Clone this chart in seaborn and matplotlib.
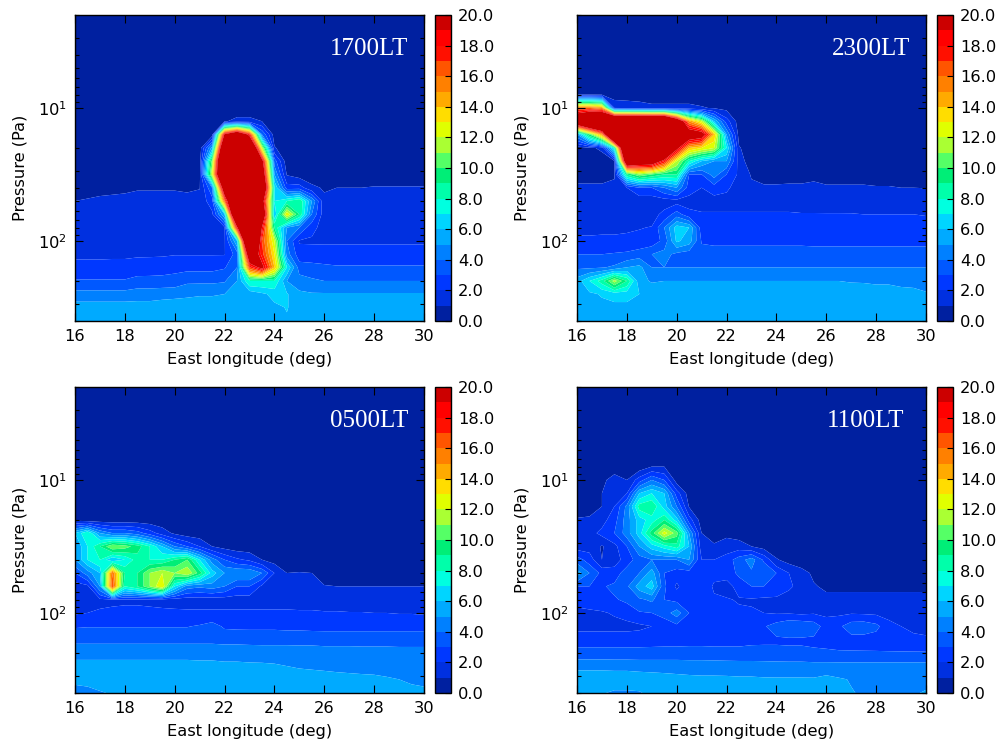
import numpy as np
import matplotlib
matplotlib.use('Agg')
import matplotlib.pyplot as plt
from matplotlib.cm import ScalarMappable
from matplotlib.colors import BoundaryNorm, ListedColormap
import seaborn as sns

sns.set_style("ticks", {"axes.axisbelow": False, "font.family": ["DejaVu Sans"], "text.color": "k",
                        "axes.labelcolor": "k", "xtick.color": "k", "ytick.color": "k"})

longitude = [16, 16.5, 17, 17.5, 18, 18.5, 19, 19.5, 20, 20.5, 21, 21.5, 22, 22.5, 23,
             23.5, 24, 24.5, 25, 25.5, 26, 26.5, 27, 27.5, 28, 28.5, 29, 29.5, 30]
pressure = [2.0, 6.31, 7.94, 10.0, 12.6, 15.8, 20.0, 25.1, 31.6, 39.8, 50.1, 63.1, 79.4,
            100.0, 126.0, 158.0, 200.0, 251.0, 316.0, 400.0]
levels = [0, 1, 2, 3, 4, 5, 6, 7, 8, 9, 10, 11, 12, 13, 14, 15, 16, 17, 18, 19, 20]
# the top band takes everything over 19, the colour saturates there
fill_levels = [0, 1, 2, 3, 4, 5, 6, 7, 8, 9, 10, 11, 12, 13, 14, 15, 16, 17, 18, 19, 60]
cbar_ticks = [0, 2, 4, 6, 8, 10, 12, 14, 16, 18, 20]
x_ticks = [16, 18, 20, 22, 24, 26, 28, 30]

# one colour per 1-unit band
band_colors = ['#0020a0', '#0030e0', '#0038ff', '#0058ff', '#0080ff', '#00aaff', '#00d5ff',
               '#00ffe0', '#00ffaa', '#00ee77', '#55ff66', '#aaff33', '#e0ff00', '#ffdd00',
               '#ffaa00', '#ff8000', '#ff5500', '#ff1000', '#ff0000', '#cc0000']

temp_1700 = [
    [.4, .4, .4, .4, .4, .4, .4, .4, .4, .4, .4, .4, .4, .4, .4, .4, .4, .4, .4, .4, .4, .4, .4, .4, .4, .4, .4, .4, .4],
    [.4, .4, .4, .4, .4, .4, .4, .4, .4, .4, .4, .4, .4, .4, .4, .4, .4, .4, .4, .4, .4, .4, .4, .4, .4, .4, .4, .4, .4],
    [.4, .4, .4, .4, .4, .4, .4, .4, .4, .4, .4, .4, .4, .4, .4, .4, .4, .4, .4, .4, .4, .4, .4, .4, .4, .4, .4, .4, .4],
    [.4, .4, .4, .4, .4, .4, .4, .4, .4, .4, .4, .4, .4, .4, .4, .4, .4, .4, .4, .4, .4, .4, .4, .4, .4, .4, .4, .4, .4],
    [.4, .4, .4, .4, .4, .4, .4, .4, .4, .4, .4, .4, .9, 1.3, 1.3, 1, .4, .4, .4, .4, .4, .4, .4, .4, .4, .4, .4, .4, .4],
    [.4, .4, .4, .4, .4, .4, .4, .4, .4, .4, .4, .4, 19.5, 24, 18, 4, .5, .4, .4, .4, .4, .4, .4, .4, .4, .4, .4, .4, .4],
    [.4, .4, .4, .4, .4, .4, .4, .4, .4, .4, .4, 5.5, 26, 28, 28, 12, 1.1, .4, .4, .4, .4, .4, .4, .4, .4, .4, .4, .4, .4],
    [.4, .4, .4, .4, .4, .4, .4, .4, .4, .4, .4, 10.5, 30, 30, 30, 20.5, 3.5, .4, .4, .4, .4, .4, .4, .4, .4, .4, .4, .4, .4],
    [.5, .5, .5, .5, .5, .6, .6, .6, .6, .6, .6, 12, 30, 30, 30, 23, 5, .9, .5, .5, .5, .5, .6, .6, .6, .6, .6, .6, .6],
    [.8, .8, .85, .9, .9, .95, .95, .95, .95, .9, .95, 4, 23, 30, 30, 26, 7, 2.5, 2.5, 1.2, .9, 1, 1, 1, 1.05, 1.05, 1.05, 1.05, 1.05],
    [1, 1.05, 1.1, 1.1, 1.15, 1.2, 1.2, 1.2, 1.2, 1.2, 1.4, 2.5, 16, 30, 30, 21, 7, 8, 9, 5, 1.2, 1.2, 1.2, 1.2, 1.2, 1.2, 1.2, 1.2, 1.2],
    [1.4, 1.4, 1.4, 1.4, 1.4, 1.4, 1.4, 1.4, 1.4, 1.4, 1.5, 1.8, 6, 30, 30, 24, 6, 13, 9, 4, 1.4, 1.4, 1.4, 1.4, 1.4, 1.4, 1.4, 1.4, 1.4],
    [1.6, 1.6, 1.6, 1.6, 1.6, 1.6, 1.6, 1.6, 1.6, 1.6, 1.6, 1.6, 1.8, 18.5, 30, 19, 9, 5, 4, 2.3, 1.6, 1.6, 1.6, 1.6, 1.6, 1.6, 1.6, 1.6, 1.6],
    [1.7, 1.7, 1.7, 1.75, 1.75, 1.75, 1.8, 1.8, 1.8, 1.8, 1.85, 1.85, 1.9, 6, 32, 17, 12, 4, 1.9, 1.85, 1.85, 1.85, 1.85, 1.85, 1.85, 1.85, 1.85, 1.85, 1.85],
    [1.85, 1.85, 1.85, 1.85, 1.85, 1.9, 1.9, 1.9, 1.95, 1.95, 1.95, 1.95, 1.95, 3.5, 23, 17.5, 13, 4.5, 2.4, 2.5, 2.45, 2.45, 2.45, 2.45, 2.45, 2.45, 2.45, 2.45, 2.45],
    [2.25, 2.25, 2.25, 2.3, 2.3, 2.35, 2.4, 2.5, 2.7, 2.7, 2.7, 2.7, 2.9, 4, 17, 20, 14, 7, 3.5, 3.3, 3.2, 3.1, 3.1, 3.1, 3.1, 3.1, 3.1, 3.1, 3.1],
    [3.1, 3.1, 3.1, 3.1, 3.1, 3.4, 3.4, 3.4, 3.4, 3.8, 3.8, 3.8, 3.9, 5, 8, 8, 8, 5, 4.5, 4.2, 4, 4, 4, 4, 4, 4, 4, 4, 4],
    [4.4, 4.4, 4.4, 4.4, 4.4, 4.5, 4.5, 4.6, 4.7, 4.8, 4.9, 4.9, 5, 5.1, 5.3, 5.8, 6.3, 6.1, 5.2, 5.1, 5.1, 5.1, 5.1, 5.1, 5.1, 5.1, 5.1, 5.1, 5.1],
    [5.5, 5.5, 5.5, 5.5, 5.5, 5.5, 5.5, 5.6, 5.6, 5.6, 5.6, 5.6, 5.6, 5.6, 5.6, 5.7, 5.8, 6.05, 5.6, 5.6, 5.6, 5.6, 5.6, 5.6, 5.6, 5.6, 5.6, 5.6, 5.6],
    [5.85, 5.85, 5.85, 5.85, 5.85, 5.85, 5.85, 5.85, 5.85, 5.85, 5.85, 5.85, 5.85, 5.85, 5.85, 5.85, 5.85, 5.9, 5.85, 5.85, 5.85, 5.85, 5.85, 5.85, 5.85, 5.85, 5.85, 5.85, 5.85],
]

temp_2300 = [
    [.4, .4, .4, .4, .4, .4, .4, .4, .4, .4, .4, .4, .4, .4, .4, .4, .4, .4, .4, .4, .4, .4, .4, .4, .4, .4, .4, .4, .4],
    [.4, .4, .4, .4, .4, .4, .4, .4, .4, .4, .4, .4, .4, .4, .4, .4, .4, .4, .4, .4, .4, .4, .4, .4, .4, .4, .4, .4, .4],
    [1, 1, .9, .4, .4, .4, .4, .4, .4, .4, .4, .4, .4, .4, .4, .4, .4, .4, .4, .4, .4, .4, .4, .4, .4, .4, .4, .4, .4],
    [16, 16, 15, 2, 1.8, 1.6, 1.3, 1.3, 1.3, 1.3, 1.1, .9, .7, .4, .4, .4, .4, .4, .4, .4, .4, .4, .4, .4, .4, .4, .4, .4, .4],
    [24, 28, 30, 33, 33, 33, 33, 33, 24, 15, 12, 6, 2.5, .5, .4, .4, .4, .4, .4, .4, .4, .4, .4, .4, .4, .4, .4, .4, .4],
    [5, 10, 15, 33, 33, 33, 33, 33, 33, 22, 21, 14, 5, .6, .4, .4, .4, .4, .4, .4, .4, .4, .4, .4, .4, .4, .4, .4, .4],
    [.5, .8, 1.2, 8, 30, 30, 30, 28, 20, 14, 13, 12, 7, 1.1, .4, .4, .4, .4, .4, .4, .4, .4, .4, .4, .4, .4, .4, .4, .4],
    [.4, .4, .5, .9, 24, 22, 22, 18, 12, 8, 6, 5, 5, 1.5, .4, .4, .4, .4, .4, .4, .4, .4, .4, .4, .4, .4, .4, .4, .4],
    [.7, .7, .7, .9, 9, 11, 10, 9, 9, 3, 3, 4.5, 3, 1.8, .9, .6, .6, .7, .7, .8, .7, .7, .7, .7, .7, .7, .7, .7, .7],
    [1.15, 1.15, 1.15, 1.2, 2, 3, 3, 4, 5, 2.5, 2, 2.5, 2.2, 1.5, 1.2, 1.15, 1.15, 1.15, 1.15, 1.2, 1.1, 1.1, 1.1, 1.1, 1.05, 1.05, 1, 1, .98],
    [1.25, 1.25, 1.25, 1.25, 1.25, 1.3, 1.3, 1.5, 1.6, 1.6, 1.6, 1.6, 1.6, 1.6, 1.6, 1.6, 1.6, 1.6, 1.6, 1.6, 1.55, 1.55, 1.5, 1.5, 1.5, 1.5, 1.5, 1.5, 1.5],
    [1.5, 1.5, 1.5, 1.5, 1.5, 1.55, 1.6, 2.3, 3.5, 2.3, 2.1, 2.1, 2.1, 2.1, 2.1, 2.1, 2.1, 2.1, 2.05, 2.05, 2.05, 2.05, 2.05, 2, 2, 2, 2, 2, 1.95],
    [1.8, 1.8, 1.8, 1.8, 1.85, 1.95, 2.05, 4, 6.5, 6, 2.4, 2.4, 2.4, 2.4, 2.4, 2.4, 2.4, 2.4, 2.4, 2.4, 2.4, 2.4, 2.4, 2.4, 2.4, 2.4, 2.4, 2.4, 2.4],
    [2.15, 2.15, 2.2, 2.2, 2.25, 2.3, 2.4, 3.3, 6.2, 5.5, 2.9, 2.8, 2.8, 2.8, 2.8, 2.8, 2.8, 2.8, 2.8, 2.75, 2.75, 2.75, 2.75, 2.75, 2.75, 2.75, 2.75, 2.75, 2.75],
    [3, 3, 3, 3.1, 3.2, 3.5, 4, 4.4, 3.7, 3.4, 3.4, 3.4, 3.4, 3.4, 3.4, 3.4, 3.4, 3.4, 3.4, 3.4, 3.4, 3.4, 3.4, 3.4, 3.4, 3.4, 3.4, 3.4, 3.4],
    [3.8, 3.8, 3.9, 4.2, 5, 5.3, 4, 4, 4, 4, 4, 4, 4, 4, 4, 4, 4, 4, 4, 4, 4, 4, 4, 4, 4, 4, 4, 4, 4],
    [5.5, 7, 8.5, 11.5, 9, 5.3, 4.9, 5, 5, 5, 5, 5, 5, 5, 5, 5, 5, 5, 5, 5, 5, 5, 4.95, 4.95, 4.9, 4.9, 4.85, 4.8, 4.6],
    [5.3, 5.8, 6.1, 6.4, 6.4, 6, 5.7, 5.5, 5.4, 5.4, 5.4, 5.4, 5.4, 5.4, 5.4, 5.4, 5.4, 5.4, 5.4, 5.4, 5.4, 5.4, 5.4, 5.3, 5.3, 5.3, 5.2, 5.2, 5.1],
    [5.7, 5.7, 5.7, 5.7, 5.7, 5.7, 5.7, 5.7, 5.7, 5.7, 5.7, 5.7, 5.7, 5.7, 5.7, 5.7, 5.7, 5.7, 5.7, 5.7, 5.7, 5.7, 5.7, 5.7, 5.7, 5.6, 5.6, 5.6, 5.6],
    [5.9, 5.9, 5.9, 5.9, 5.9, 5.9, 5.9, 5.9, 5.9, 5.9, 5.9, 5.9, 5.9, 5.9, 5.9, 5.9, 5.9, 5.9, 5.9, 5.9, 5.9, 5.9, 5.9, 5.9, 5.9, 5.9, 5.9, 5.9, 5.9],
]

temp_0500 = [
    [.4, .4, .4, .4, .4, .4, .4, .4, .4, .4, .4, .4, .4, .4, .4, .4, .4, .4, .4, .4, .4, .4, .4, .4, .4, .4, .4, .4, .4],
    [.4, .4, .4, .4, .4, .4, .4, .4, .4, .4, .4, .4, .4, .4, .4, .4, .4, .4, .4, .4, .4, .4, .4, .4, .4, .4, .4, .4, .4],
    [.4, .4, .4, .4, .4, .4, .4, .4, .4, .4, .4, .4, .4, .4, .4, .4, .4, .4, .4, .4, .4, .4, .4, .4, .4, .4, .4, .4, .4],
    [.4, .4, .4, .4, .4, .4, .4, .4, .4, .4, .4, .4, .4, .4, .4, .4, .4, .4, .4, .4, .4, .4, .4, .4, .4, .4, .4, .4, .4],
    [.4, .4, .4, .4, .4, .4, .4, .4, .4, .4, .4, .4, .4, .4, .4, .4, .4, .4, .4, .4, .4, .4, .4, .4, .4, .4, .4, .4, .4],
    [.4, .4, .4, .4, .4, .4, .4, .4, .4, .4, .4, .4, .4, .4, .4, .4, .4, .4, .4, .4, .4, .4, .4, .4, .4, .4, .4, .4, .4],
    [.7, .4, .4, .4, .4, .4, .4, .4, .4, .4, .4, .4, .4, .4, .4, .4, .4, .4, .4, .4, .4, .4, .4, .4, .4, .4, .4, .4, .4],
    [6, 8, 5, 4, 4, 3.5, 2.5, 1.5, .8, .4, .4, .4, .4, .4, .4, .4, .4, .4, .4, .4, .4, .4, .4, .4, .4, .4, .4, .4, .4],
    [5, 7, 9, 11, 10.5, 9.5, 8, 6, 4, 3, 2, 1, .6, .4, .4, .4, .4, .4, .4, .4, .4, .4, .4, .4, .4, .4, .4, .4, .4],
    [5, 7, 8, 6, 7, 8.5, 8, 8, 9, 10, 7, 4.5, 3, 2.2, 1.8, 1, .6, .4, .4, .4, .4, .4, .4, .4, .4, .4, .4, .4, .4],
    [3, 4.5, 6, 16, 9, 9, 11, 12, 11, 12, 9.5, 6.5, 5, 5, 5, 4, 2, 1, 1.05, 1, .6, .4, .4, .4, .4, .4, .4, .4, .4],
    [1.5, 1.7, 5, 17, 8, 9, 11, 13, 7, 4.5, 4.2, 4.5, 4, 3, 3, 1.8, 1.4, 1.3, 1.2, 1.2, 1.05, 1, 1, 1, 1, 1, 1, 1, 1],
    [1.5, 1.5, 1.8, 1.9, 1.9, 1.9, 1.8, 1.7, 1.6, 1.5, 1.5, 1.5, 1.5, 1.5, 1.5, 1.5, 1.5, 1.5, 1.5, 1.5, 1.4, 1.4, 1.4, 1.4, 1.4, 1.4, 1.4, 1.4, 1.4],
    [1.9, 2, 2.1, 2.1, 2.15, 2.15, 2.2, 2.2, 2.2, 2.2, 2.2, 2.2, 2.2, 2.2, 2.2, 2.2, 2.2, 2.2, 2.15, 2.15, 2.1, 2.1, 2.05, 2.05, 2, 2, 1.95, 1.95, 1.9],
    [2.9, 2.95, 2.95, 2.95, 2.95, 2.95, 2.95, 2.95, 2.95, 2.95, 3.1, 3.4, 2.85, 2.8, 2.8, 2.8, 2.8, 2.75, 2.75, 2.7, 2.7, 2.7, 2.7, 2.7, 2.7, 2.7, 2.7, 2.7, 2.7],
    [3.7, 3.7, 3.7, 3.7, 3.7, 3.7, 3.7, 3.7, 3.7, 3.7, 3.7, 3.7, 3.65, 3.65, 3.6, 3.6, 3.6, 3.6, 3.6, 3.6, 3.55, 3.55, 3.55, 3.55, 3.55, 3.55, 3.55, 3.55, 3.55],
    [4.7, 4.7, 4.7, 4.7, 4.7, 4.7, 4.7, 4.7, 4.7, 4.7, 4.7, 4.7, 4.65, 4.65, 4.65, 4.6, 4.6, 4.6, 4.55, 4.55, 4.5, 4.5, 4.5, 4.45, 4.45, 4.45, 4.4, 4.4, 4.4],
    [5.3, 5.3, 5.3, 5.3, 5.3, 5.3, 5.3, 5.3, 5.3, 5.3, 5.25, 5.25, 5.2, 5.2, 5.15, 5.15, 5.1, 5, 4.9, 4.85, 4.8, 4.7, 4.65, 4.6, 4.5, 4.45, 4.4, 4.3, 4.2],
    [5.3, 5.4, 5.5, 5.6, 5.6, 5.7, 5.8, 5.95, 5.7, 5.6, 5.6, 5.6, 5.6, 5.6, 5.6, 5.6, 5.55, 5.5, 5.5, 5.45, 5.4, 5.4, 5.35, 5.3, 5.3, 5.15, 5, 4.9, 4.8],
    [4.5, 4.6, 4.9, 5.1, 5.1, 5.2, 5.2, 5.2, 5.2, 5.2, 5.2, 5.2, 5.2, 5.2, 5.2, 5.2, 5.2, 5.2, 5.2, 5.2, 5.2, 5.2, 5.2, 5.2, 5.2, 5.2, 5.2, 5.2, 5.2],
]

temp_1100 = [
    [.4, .4, .4, .4, .4, .4, .4, .4, .4, .4, .4, .4, .4, .4, .4, .4, .4, .4, .4, .4, .4, .4, .4, .4, .4, .4, .4, .4, .4],
    [.4, .4, .4, .4, .4, .4, .4, .4, .4, .4, .4, .4, .4, .4, .4, .4, .4, .4, .4, .4, .4, .4, .4, .4, .4, .4, .4, .4, .4],
    [.4, .4, .4, .4, .4, .4, 1, 1, .4, .4, .4, .4, .4, .4, .4, .4, .4, .4, .4, .4, .4, .4, .4, .4, .4, .4, .4, .4, .4],
    [1, .4, .7, 1.5, 1, 2.5, 4, 3, .5, .4, .4, .4, .4, .4, .4, .4, .4, .4, .4, .4, .4, .4, .4, .4, .4, .4, .4, .4, .4],
    [.9, .5, 1, 1.6, 2, 6, 7, 6, 2.5, .5, .4, .4, .4, .4, .4, .4, .4, .4, .4, .4, .4, .4, .4, .4, .4, .4, .4, .4, .4],
    [.5, .5, 1, 2, 4.3, 8.5, 9, 6.5, 4, .9, .4, .4, .4, .4, .4, .4, .4, .4, .4, .4, .4, .4, .4, .4, .4, .4, .4, .4, .4],
    [1.1, 1.2, 1.6, 2.6, 4.5, 6.5, 7.5, 9, 6.5, 2.5, .5, .4, .4, .4, .4, .4, .4, .4, .4, .4, .4, .4, .4, .4, .4, .4, .4, .4, .4],
    [1.6, 1.6, 2.3, 3, 4.5, 6.5, 9.5, 12.5, 10.5, 5, 1, .7, .8, .5, .4, .4, .4, .4, .4, .4, .4, .4, .4, .4, .4, .4, .4, .4, .4],
    [1.5, 1.6, .9, 1.7, 3, 5, 6.5, 7.5, 8.5, 6, 1.3, 1.1, 1.4, 1.5, 1, .6, .4, .4, .4, .4, .4, .4, .4, .4, .4, .4, .4, .4, .4],
    [3.5, 2.5, 1, 1.5, 2.5, 3.5, 4, 4, 4, 5, 2, 2, 2.5, 3.5, 4.5, 2.8, 1.1, .6, .4, .4, .4, .4, .4, .4, .4, .4, .4, .4, .4],
    [5.5, 4, 2.7, 2.5, 3.5, 4, 5.5, 3, 2.5, 2.5, 2.8, 2.2, 2.5, 3.2, 3.8, 3.9, 3, 2, 1.4, .8, .4, .4, .4, .4, .4, .4, .4, .4, .4],
    [3, 3, 2.9, 3.2, 3.8, 5.5, 6.5, 3.2, 1.8, 2.8, 2.5, 1.9, 1.5, 2.5, 3, 3, 3, 2.2, 1.6, 1.1, .8, .8, .8, .8, .8, .8, .8, .8, .8],
    [2.5, 2.5, 2.6, 2.9, 3.2, 3.8, 4.2, 3, 2.7, 2.6, 2.1, 2.1, 2.1, 1.9, 1.9, 1.8, 1.7, 1.5, 1.3, 1.3, 1.3, 1.3, 1.3, 1.3, 1.3, 1.3, 1.3, 1.3, 1.3],
    [1.6, 1.8, 1.9, 2.1, 2.4, 2.9, 3, 3.5, 4.5, 3, 2.6, 2.5, 2.3, 2.2, 2.1, 2, 1.9, 1.9, 1.8, 1.9, 1.8, 1.8, 1.9, 1.85, 1.8, 1.7, 1.6, 1.5, 1.4],
    [1.7, 1.7, 1.7, 1.7, 1.7, 1.8, 2, 2.2, 2.7, 2.9, 2.9, 2.9, 2.95, 3, 3, 2.9, 3.5, 4, 3.9, 3.6, 2.5, 2.8, 3.6, 3.7, 3.3, 2.3, 2, 1.8, 1.7],
    [2.5, 2.5, 2.5, 2.5, 2.5, 2.5, 2.55, 2.6, 2.6, 2.65, 2.65, 2.65, 2.65, 2.7, 2.8, 2.85, 2.85, 2.85, 2.85, 2.8, 2.7, 2.65, 2.6, 2.55, 2.5, 2.4, 2.3, 2.2, 2.15],
    [3.4, 3.4, 3.4, 3.4, 3.4, 3.4, 3.4, 3.4, 3.4, 3.4, 3.4, 3.35, 3.35, 3.3, 3.3, 3.25, 3.25, 3.2, 3.2, 3.15, 3.15, 3.1, 3.1, 3.1, 3.1, 3.1, 3.1, 3.1, 3.1],
    [4.7, 4.7, 4.7, 4.65, 4.65, 4.6, 4.6, 4.6, 4.6, 4.55, 4.55, 4.55, 4.5, 4.5, 4.5, 4.5, 4.45, 4.45, 4.45, 4.4, 4.4, 4.4, 4.4, 4.4, 4.4, 4.4, 4.4, 4.4, 4.4],
    [5.7, 5.7, 5.7, 5.7, 5.7, 5.6, 5.5, 5.4, 5.3, 5.25, 5.2, 5.2, 5.2, 5.15, 5.15, 5.1, 5.1, 5.1, 5.1, 5.1, 5.3, 5.1, 4.95, 4.8, 4.7, 4.7, 4.7, 4.7, 4.7],
    [5.6, 5.4, 5.1, 4.8, 4.8, 4.9, 5.3, 5.4, 5.4, 5.4, 5.4, 5.4, 5.4, 5.4, 5.4, 5.4, 5.4, 5.3, 5.3, 5.3, 5.3, 5.2, 5.05, 4.9, 4.8, 4.8, 4.8, 4.9, 5.1],
]

panels = [('1700LT', temp_1700, 75, 15, .954), ('2300LT', temp_2300, 577, 15, .954),
          ('0500LT', temp_0500, 75, 387, .954), ('1100LT', temp_1100, 577, 387, .937)]

W, H = 1000, 741
fig = plt.figure(figsize=(W / 100, H / 100), dpi=100)
colors = sns.color_palette(band_colors)
band_cmap = ListedColormap(colors)
band_norm = BoundaryNorm(levels, band_cmap.N)

for label, temp, left, top, text_x in panels:
    ax = fig.add_axes([left / W, 1 - (top + 306) / H, 349 / W, 306 / H])
    ax.contourf(longitude, pressure, np.array(temp, dtype=float), levels=fill_levels,
                colors=colors, antialiased=True)
    ax.set_yscale('log')
    ax.set_ylim(400, 2)
    ax.set_xlim(16, 30)
    ax.set_xticks(x_ticks)
    ax.tick_params(which='major', direction='in', top=True, right=True, length=6, width=.8,
                   labelsize=11.7, pad=6)
    ax.tick_params(which='minor', direction='in', left=True, right=True, length=3, width=.8)
    ax.set_xlabel('East longitude (deg)', fontsize=11.7, labelpad=5.5)
    ax.set_ylabel('Pressure (Pa)', fontsize=11.7, labelpad=7)
    for s in ax.spines.values():
        s.set_linewidth(1)
        s.set_color('k')
    ax.text(text_x, .89, label, transform=ax.transAxes, ha='right', va='center', color='w',
            fontsize=18, family='Liberation Serif')

    cax = fig.add_axes([(left + 360) / W, 1 - (top + 306) / H, 16 / W, 306 / H])
    cb = fig.colorbar(ScalarMappable(norm=band_norm, cmap=band_cmap), cax=cax,
                      ticks=cbar_ticks, format='%.1f')
    cb.ax.tick_params(direction='in', length=4, width=.8, labelsize=11.7, pad=5)
    cb.ax.minorticks_off()
    cb.outline.set_linewidth(1)
    cb.outline.set_edgecolor('k')

fig.savefig('out.png', dpi=100)
